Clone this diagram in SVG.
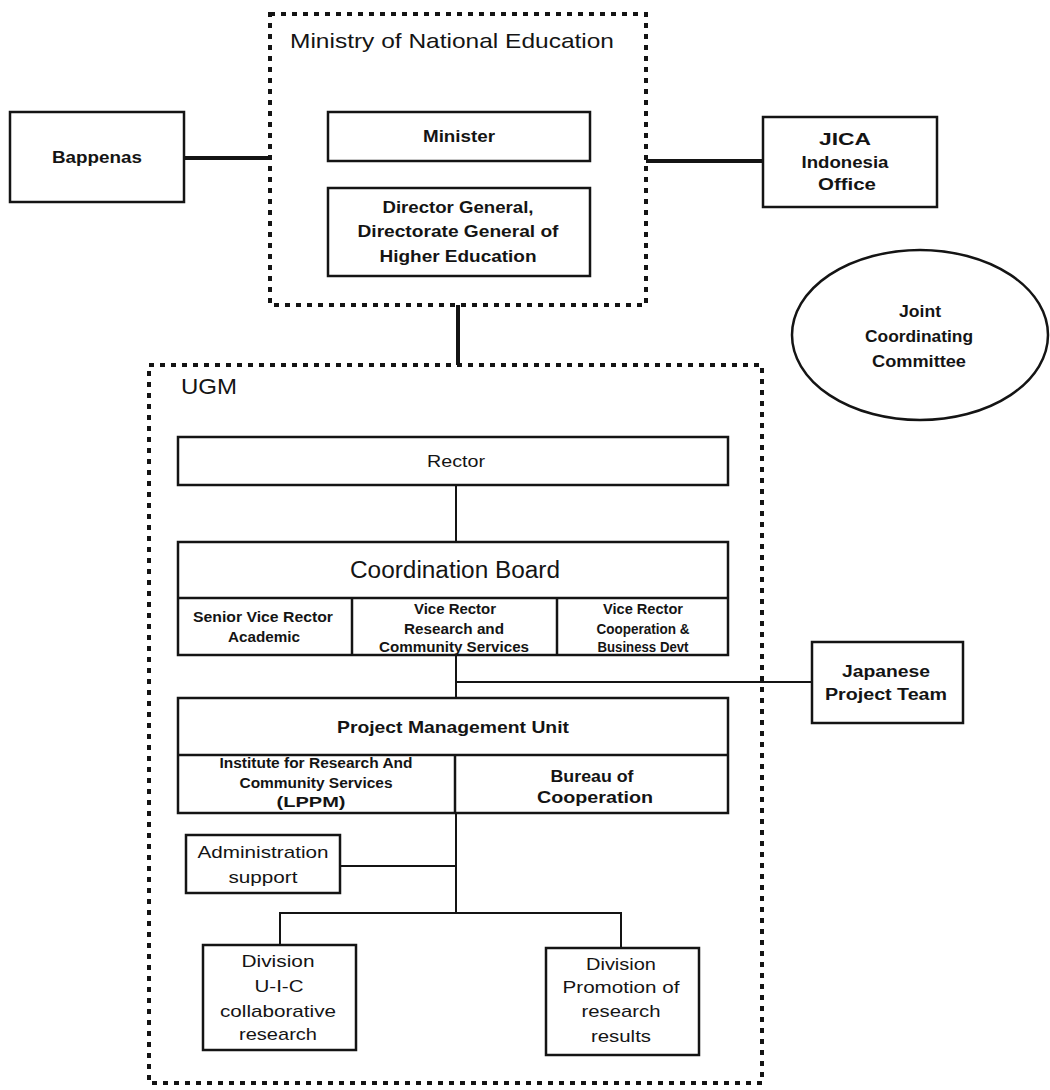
<svg xmlns="http://www.w3.org/2000/svg" width="1050" height="1090" viewBox="0 0 1050 1090">
<style>
.bg{fill:#fff}
.box{fill:#fff;stroke:#141414;stroke-width:2.5}
.grp{fill:none;stroke:#141414;stroke-width:4;stroke-dasharray:5 6}
.div{stroke:#141414;stroke-width:2.5;fill:none}
.thick{stroke:#141414;stroke-width:4;fill:none}
.thin{stroke:#141414;stroke-width:2;fill:none}
.t{font-family:"Liberation Sans",Arial,Helvetica,sans-serif;fill:#141414;text-anchor:middle}
.s{text-anchor:start}
.b{font-weight:bold}
</style>
<rect class="bg" x="0" y="0" width="1050" height="1090"/>

<g id="connectors">
  <line class="thick" x1="184" y1="158" x2="270" y2="158"/>
  <line class="thick" x1="646" y1="161" x2="763" y2="161"/>
  <line class="thick" x1="458" y1="305" x2="458" y2="365"/>
  <line class="thin" x1="456" y1="485" x2="456" y2="542"/>
  <line class="thin" x1="456" y1="655" x2="456" y2="698"/>
  <line class="thin" x1="456" y1="682" x2="812" y2="682"/>
  <line class="thin" x1="456" y1="813" x2="456" y2="913"/>
  <line class="thin" x1="340" y1="866" x2="456" y2="866"/>
  <polyline class="thin" points="280,945 280,913 621,913 621,948"/>
</g>

<g id="ministry">
  <rect class="grp" x="270" y="14" width="376" height="291"/>
  <text class="t s" x="290" y="48" font-size="21" textLength="324" lengthAdjust="spacingAndGlyphs">Ministry of National Education</text>
</g>
<g id="minister">
  <rect class="box" x="328" y="112" width="262" height="49"/>
  <text class="t b" x="459" y="142" font-size="16" textLength="72" lengthAdjust="spacingAndGlyphs">Minister</text>
</g>
<g id="director-general">
  <rect class="box" x="328" y="188" width="262" height="88"/>
  <text class="t b" x="458" y="213" font-size="16" textLength="151" lengthAdjust="spacingAndGlyphs">Director General,</text>
  <text class="t b" x="458" y="237" font-size="16" textLength="201" lengthAdjust="spacingAndGlyphs">Directorate General of</text>
  <text class="t b" x="458" y="262" font-size="16" textLength="157" lengthAdjust="spacingAndGlyphs">Higher Education</text>
</g>
<g id="bappenas">
  <rect class="box" x="10" y="112" width="174" height="90"/>
  <text class="t b" x="97" y="163" font-size="17" textLength="90" lengthAdjust="spacingAndGlyphs">Bappenas</text>
</g>
<g id="jica">
  <rect class="box" x="763" y="117" width="174" height="90"/>
  <text class="t b" x="845" y="145" font-size="17" textLength="52" lengthAdjust="spacingAndGlyphs">JICA</text>
  <text class="t b" x="845" y="168" font-size="17" textLength="87" lengthAdjust="spacingAndGlyphs">Indonesia</text>
  <text class="t b" x="847" y="190" font-size="17" textLength="58" lengthAdjust="spacingAndGlyphs">Office</text>
</g>
<g id="jcc">
  <ellipse class="box" cx="920" cy="335" rx="128" ry="85"/>
  <text class="t b" x="920" y="317" font-size="17" textLength="42" lengthAdjust="spacingAndGlyphs">Joint</text>
  <text class="t b" x="919" y="342" font-size="17" textLength="108" lengthAdjust="spacingAndGlyphs">Coordinating</text>
  <text class="t b" x="919" y="367" font-size="17" textLength="94" lengthAdjust="spacingAndGlyphs">Committee</text>
</g>

<g id="ugm">
  <rect class="grp" x="149" y="365" width="613" height="718"/>
  <text class="t s" x="181" y="394" font-size="22" textLength="56" lengthAdjust="spacingAndGlyphs">UGM</text>
</g>
<g id="rector">
  <rect class="box" x="178" y="437" width="550" height="48"/>
  <text class="t" x="456" y="467" font-size="16" textLength="58" lengthAdjust="spacingAndGlyphs">Rector</text>
</g>
<g id="coordination-board">
  <rect class="box" x="178" y="542" width="550" height="113"/>
  <line class="div" x1="178" y1="598" x2="728" y2="598"/>
  <line class="div" x1="352" y1="598" x2="352" y2="655"/>
  <line class="div" x1="557" y1="598" x2="557" y2="655"/>
  <text class="t" x="455" y="578" font-size="23" textLength="210" lengthAdjust="spacingAndGlyphs">Coordination Board</text>
  <text class="t b" x="263" y="622" font-size="14" textLength="140" lengthAdjust="spacingAndGlyphs">Senior Vice Rector</text>
  <text class="t b" x="264" y="642" font-size="14" textLength="72" lengthAdjust="spacingAndGlyphs">Academic</text>
  <text class="t b" x="455" y="614" font-size="14" textLength="82" lengthAdjust="spacingAndGlyphs">Vice Rector</text>
  <text class="t b" x="454" y="634" font-size="14" textLength="100" lengthAdjust="spacingAndGlyphs">Research and</text>
  <text class="t b" x="454" y="652" font-size="14" textLength="150" lengthAdjust="spacingAndGlyphs">Community Services</text>
  <text class="t b" x="643" y="614" font-size="14" textLength="80" lengthAdjust="spacingAndGlyphs">Vice Rector</text>
  <text class="t b" x="643" y="634" font-size="14" textLength="93" lengthAdjust="spacingAndGlyphs">Cooperation &amp;</text>
  <text class="t b" x="643" y="652" font-size="14" textLength="91" lengthAdjust="spacingAndGlyphs">Business Devt</text>
</g>
<g id="japanese-project-team">
  <rect class="box" x="812" y="642" width="151" height="81"/>
  <text class="t b" x="886" y="677" font-size="16" textLength="88" lengthAdjust="spacingAndGlyphs">Japanese</text>
  <text class="t b" x="886" y="700" font-size="16" textLength="122" lengthAdjust="spacingAndGlyphs">Project Team</text>
</g>
<g id="pmu">
  <rect class="box" x="178" y="698" width="550" height="115"/>
  <line class="div" x1="178" y1="755" x2="728" y2="755"/>
  <line class="div" x1="455" y1="755" x2="455" y2="813"/>
  <text class="t b" x="453" y="733" font-size="17" textLength="232" lengthAdjust="spacingAndGlyphs">Project Management Unit</text>
  <text class="t b" x="316" y="768" font-size="14" textLength="193" lengthAdjust="spacingAndGlyphs">Institute for Research And</text>
  <text class="t b" x="316" y="788" font-size="14" textLength="153" lengthAdjust="spacingAndGlyphs">Community Services</text>
  <text class="t b" x="311" y="807" font-size="14" textLength="69" lengthAdjust="spacingAndGlyphs">(LPPM)</text>
  <text class="t b" x="592" y="782" font-size="17" textLength="83" lengthAdjust="spacingAndGlyphs">Bureau of</text>
  <text class="t b" x="595" y="803" font-size="17" textLength="116" lengthAdjust="spacingAndGlyphs">Cooperation</text>
</g>
<g id="administration-support">
  <rect class="box" x="186" y="835" width="154" height="58"/>
  <text class="t" x="263" y="858" font-size="17" textLength="131" lengthAdjust="spacingAndGlyphs">Administration</text>
  <text class="t" x="263" y="883" font-size="17" textLength="69" lengthAdjust="spacingAndGlyphs">support</text>
</g>
<g id="division-uic">
  <rect class="box" x="203" y="945" width="153" height="105"/>
  <text class="t" x="278" y="967" font-size="17" textLength="73" lengthAdjust="spacingAndGlyphs">Division</text>
  <text class="t" x="279" y="992" font-size="17" textLength="49" lengthAdjust="spacingAndGlyphs">U-I-C</text>
  <text class="t" x="278" y="1017" font-size="17" textLength="116" lengthAdjust="spacingAndGlyphs">collaborative</text>
  <text class="t" x="278" y="1040" font-size="17" textLength="78" lengthAdjust="spacingAndGlyphs">research</text>
</g>
<g id="division-promotion">
  <rect class="box" x="546" y="948" width="153" height="107"/>
  <text class="t" x="621" y="970" font-size="17" textLength="70" lengthAdjust="spacingAndGlyphs">Division</text>
  <text class="t" x="621" y="993" font-size="17" textLength="117" lengthAdjust="spacingAndGlyphs">Promotion of</text>
  <text class="t" x="621" y="1017" font-size="17" textLength="79" lengthAdjust="spacingAndGlyphs">research</text>
  <text class="t" x="621" y="1042" font-size="17" textLength="60" lengthAdjust="spacingAndGlyphs">results</text>
</g>
</svg>
